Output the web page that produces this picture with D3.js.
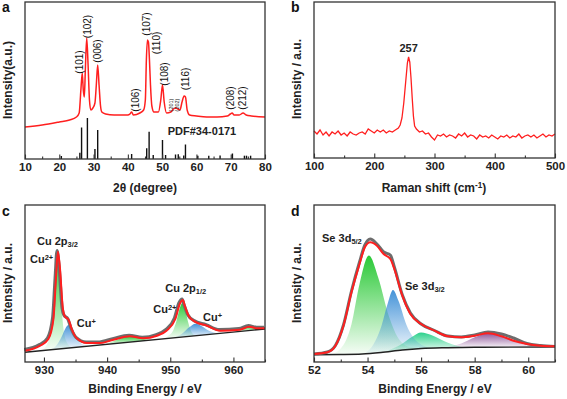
<!DOCTYPE html>
<html>
<head>
<meta charset="utf-8">
<script src="https://cdn.jsdelivr.net/npm/d3@7"></script>
<style>
body{margin:0;background:#fff}
svg{display:block}
.tick text{font-weight:bold}
</style>
</head>
<body>
<script>
// ---------- panel a : XRD ----------
const xrdAngle = [10,15,20,23,25,25.8,26.3,26.7,27.0,27.3,27.6,28.0,28.4,28.8,29.2,29.8,30.4,30.8,31.2,31.6,32.0,32.4,33.5,36,40,40.6,41.1,41.6,43.5,44.6,45.1,45.4,45.7,46.0,46.3,46.6,47.0,47.6,48.9,49.6,50.1,50.6,51.3,52.5,53.3,54.0,54.6,55.2,55.8,56.4,56.8,57.3,58,60,63,66,69,69.9,70.4,71.0,72.5,73.6,74.5,76,80];
const xrdIntensity = [32,34,37,39,42,46,69,86,69,62,89,121,94,59,49,51,56,74,94,74,54,47,45,44,44,45,47,44,46,49,59,99,119,117,99,74,53,47,47,59,74,57,46,47,50,51,50,49,57,63,62,49,44,43,42,42,43,45,46,44,44,46,44,43,42];
const pdfAngle = [20.6,26.0,26.5,28.2,30.4,31.2,41.1,45.5,46.2,47.4,50.1,51.0,53.9,54.7,56.3,56.8,60.4,63.6,66.9,70.5,74.0,74.6,75.8];
const pdfIntensity = [3,6.3,31.5,41,10,29,5,10.7,27.3,4,19,4,4.5,4.7,3.5,14.5,3.3,3.3,3.5,5.5,3.3,3.3,3.3];
const hklLabels = ["(101)","(102)","(006)","(106)","(107)","(110)","(108)","(201)","(202)","(116)","(208)","(212)"];
const hklAngle = [25.75,28.1,31.0,42.1,45.5,48.4,50.6,52.5,54.4,56.8,69.8,73.4];
const hklLevel = [97,132.5,108,59,135,116,85,54,54,80,61,61];
const xrdTicks = [10,20,30,40,50,60,70,80];
const xrdMinor = [15,25,35,45,55,65,75];

// ---------- panel b : Raman ----------
const ramanShift = [100,105,110,115,120,125,130,135,140,145,150,155,160,165,170,175,180,185,190,195,200,205,210,215,220,225,230,235,240,243,246,249,252,255,257,259,261,263,265,267,270,275,280,285,290,295,300,305,310,315,320,325,330,335,340,345,350,355,360,365,370,375,380,385,390,395,400,405,410,415,420,425,430,435,440,445,450,455,460,465,470,475,480,485,490,495,500];
const ramanIntensity = [27,24,28,23,26,22,26,24,27,23,25,22,26,24,23,25,26,24,29,27,25,28,26,28,25,27,26,28,30,33,40,55,75,95,101,96,80,60,42,32,29,26,27,24,25,21,18,23,22,24,21,23,22,20,24,22,25,21,23,22,19,23,21,22,20,23,21,19,22,21,23,20,22,21,24,20,22,23,21,23,20,22,24,21,23,22,24];
const ramanTicks = [100,200,300,400,500];
const ramanMinor = [150,250,350,450];

// ---------- panel c : Cu 2p XPS ----------
const cuBE = [927,929.4,930.7,931.5,931.9,932.2,932.5,933.0,933.3,933.9,934.4,935.2,936.8,938.9,941.0,943.6,945.7,947.9,949.4,950.8,951.5,952.0,952.3,952.9,953.9,955.8,957.9,961.0,962.5,963.8,965];
const cuEnvelope = [11.3,16.3,23,43,83,110.3,96.3,53,45.7,42.3,33,23.7,19,19,22.3,25.7,23.7,26.3,31.3,43,58,62,56.3,46.3,40.3,36.3,31.3,32.3,35.3,33.7,33.7];
const cuBgBE = [927,965];
const cuBg = [9.7,33];
const cu2p32BE = [929.5,930.5,931.0,931.4,931.8,932.1,932.4,932.8,933.2,933.8,934.6];
const cu2p32 = [0,6,15,35,75,95,80,40,15,4,0];
const cuP32BE = [931.0,932.0,932.8,933.4,933.9,934.4,935.0,935.8,937.0];
const cuP32 = [0,4,12,20,23,20,12,4,0];
const cuSatBE = [939.5,941.0,942.5,943.5,944.5,946.0,947.0];
const cuSat = [0,2.5,5,6,5,1.5,0];
const cu2p12BE = [949.0,949.8,950.5,951.0,951.5,951.9,952.3,952.8,953.3,954.0];
const cu2p12 = [0,3,8,17,29,34,29,15,5,0];
const cuP12BE = [950.5,951.8,953.0,954.0,955.0,956.3,957.5];
const cuP12 = [0,3,9,12,9,3,0];
const cuSat2BE = [960.5,961.5,962.5,963.5,964.5];
const cuSat2 = [0,2.5,4.5,2.5,0];
const cuTicks = [930,940,950,960];
const cuMinor = [935,945,955,965];

// ---------- panel d : Se 3d XPS ----------
const seBE = [52.0,52.5,52.8,53.1,53.4,53.7,53.9,54.1,54.35,54.6,54.85,55.0,55.3,55.6,56.0,56.5,57.0,57.5,58.0,58.5,59.0,59.45,59.95,60.45,61];
const seEnvelope = [8,9.7,16.3,36.3,69.7,98,114.7,119.7,116.3,108,103,93,66.3,48,38,31.3,25.7,24.7,26.3,28.7,25.7,21.3,18,16.3,15.7];
const seRaw = [8,10,16.5,37,71,100,117,123,118,110,107,95,67,49,38,31.5,26,25,27,30,28,24,18.5,16.5,15.5];
const seBgBE = [52,53,53.8,54.5,55.3,56,57,58,61];
const seBg = [7.3,7.5,8,9.5,12,13.5,14.3,14.7,15];
const se52BE = [52.6,53.0,53.4,53.7,54.05,54.4,54.8,55.2,55.6,56.0];
const se52 = [0,6,30,70,98,75,35,10,2,0];
const se32BE = [53.8,54.2,54.5,54.75,54.95,55.15,55.45,55.9,56.4];
const se32 = [0,8,25,48,61,50,25,6,0];
const seOxBE = [54.6,55.2,55.7,56.0,56.4,57.0,57.6];
const seOx = [0,5,13,16,13,5,0];
const seSatBE = [56.8,57.5,58.0,58.5,59.0,59.5,60.2];
const seSat = [0,4,10,14,12,6,0];
const seTicks = [52,54,56,58,60];
const seMinor = [53,55,57,59,61];

// ---------- drawing ----------
const FONT = "Arial, 'Liberation Sans', Helvetica, sans-serif";
const RED = "#ff1f1f";
const svg = d3.select("body").append("svg")
    .attr("width",567)
    .attr("height",399)
    .style("font-family",FONT);

const defs = svg.append("defs");
function grad(id, color){
    const g = defs.append("linearGradient").attr("id",id)
        .attr("x1",0).attr("y1",0).attr("x2",0).attr("y2",1);
    g.append("stop").attr("offset","0%").attr("stop-color",color).attr("stop-opacity",0.95);
    g.append("stop").attr("offset","100%").attr("stop-color",color).attr("stop-opacity",0.04);
}
grad("gGreen","#1fc62c");
grad("gBlue","#3b8ed6");
grad("gTeal","#22cf86");
grad("gPurple","#8a4f96");

function panel(box, xDomain, majors, minors){
    const x = d3.scaleLinear().domain(xDomain).range([box.l, box.r]);
    const y = d3.scaleLinear().domain([0, box.b - box.t]).range([box.b, box.t]);
    const g = svg.append("g");
    const axG = svg.append("g");
    axG.append("g").attr("transform",`translate(0,${box.b})`)
        .call(d3.axisBottom(x).tickValues(minors).tickSize(-2.5).tickSizeOuter(0).tickFormat(""))
        .call(a => a.select(".domain").remove());
    axG.append("g").attr("transform",`translate(0,${box.b})`)
        .call(d3.axisBottom(x).tickValues(majors).tickSize(-4.5).tickSizeOuter(0).tickPadding(3.5).tickFormat(d3.format("d")))
        .call(a => a.select(".domain").remove())
        .attr("font-size",11.5).attr("font-weight","bold").attr("font-family",FONT);
    axG.selectAll(".tick text")
        .style("font-size","11.5px").style("font-weight","700")
        .style("font-family",FONT).attr("fill","#222");
    axG.selectAll(".tick line").attr("stroke","#333").attr("stroke-width",1.1);
    axG.append("rect")
        .attr("x",box.l).attr("y",box.t)
        .attr("width",box.r-box.l).attr("height",box.b-box.t)
        .attr("fill","none").attr("stroke","#333").attr("stroke-width",1.3);
    return {x, y, g, axG};
}

function richText(g, x, y, parts, size, anchor){
    const t = g.append("text").attr("x",x).attr("y",y)
        .attr("font-size",size).attr("font-weight","bold").attr("fill","#222")
        .attr("text-anchor",anchor || "start");
    parts.forEach(p => {
        const s = t.append("tspan").text(p.t);
        if(p.sub) s.attr("font-size",size*0.68).attr("baseline-shift","-25%");
        if(p.sup) s.attr("font-size",size*0.68).attr("baseline-shift","45%");
    });
    return t;
}

function ytitle(x, y, txt){
    svg.append("text")
        .attr("transform",`translate(${x},${y}) rotate(-90)`)
        .attr("text-anchor","middle").attr("dominant-baseline","central")
        .attr("font-size",12).attr("font-weight","bold").attr("fill","#222")
        .text(txt);
}
function letter(x, y, txt){
    svg.append("text").attr("x",x).attr("y",y)
        .attr("font-size",14).attr("font-weight","bold").attr("fill","#111").text(txt);
}

// ---- a ----
const pa = panel({l:25,r:265,t:2,b:159},[10,80],xrdTicks,xrdMinor);
pa.g.selectAll("line.stick")
    .data(pdfAngle)
    .enter().append("line")
    .attr("x1",d => pa.x(d)).attr("x2",d => pa.x(d))
    .attr("y1",pa.y(0))
    .attr("y2",(d,i) => pa.y(pdfIntensity[i]))
    .attr("stroke","#111").attr("stroke-width",1.4);
pa.g.append("path")
    .datum(xrdAngle.map((d,i) => [d, xrdIntensity[i]]))
    .attr("fill","none").attr("stroke",RED).attr("stroke-width",1.5)
    .attr("d", d3.line().x(d => pa.x(d[0])).y(d => pa.y(d[1])).curve(d3.curveMonotoneX));
hklLabels.forEach((lab,i) => {
    const small = lab === "(201)" || lab === "(202)";
    pa.g.append("text")
        .attr("transform",`translate(${pa.x(hklAngle[i])},${pa.y(hklLevel[i])}) rotate(-90)`)
        .attr("text-anchor","middle").attr("dominant-baseline","central")
        .attr("font-size",small ? 5.5 : 10).attr("fill","#111")
        .text(lab);
});
pa.g.append("text").attr("x",202).attr("y",135).attr("text-anchor","middle")
    .attr("font-size",11).attr("font-weight","bold").attr("fill","#222").text("PDF#34-0171");
ytitle(8,80,"Intensity(a.u.)");
svg.append("text").attr("x",145).attr("y",192).attr("text-anchor","middle")
    .attr("font-size",12).attr("font-weight","bold").attr("fill","#222").text("2θ (degree)");
letter(2,12,"a");

// ---- b ----
const pb = panel({l:314,r:555,t:2,b:158},[100,500],ramanTicks,ramanMinor);
pb.g.append("path")
    .datum(ramanShift.map((d,i) => [d, ramanIntensity[i]]))
    .attr("fill","none").attr("stroke",RED).attr("stroke-width",1.3)
    .attr("d", d3.line().x(d => pb.x(d[0])).y(d => pb.y(d[1])));
pb.g.append("text").attr("x",pb.x(257)).attr("y",pb.y(106)).attr("text-anchor","middle")
    .attr("font-size",11).attr("font-weight","bold").attr("fill","#222").text("257");
ytitle(297,79,"Intensity / a.u.");
richText(svg,434,192,[{t:"Raman shift (cm"},{t:"-1",sup:true},{t:")"}],12,"middle");
letter(291,12,"b");

// ---- c ----
const pc = panel({l:25,r:265,t:205,b:362},[927,965],cuTicks,cuMinor);
const cuBgScale = d3.scaleLinear().domain(cuBgBE).range(cuBg);
function comp(p, bgScale, xs, hs, fill){
    p.g.append("path")
        .datum(xs.map((d,i) => [d, hs[i]]))
        .attr("fill",fill).attr("stroke","none")
        .attr("d", d3.area()
            .x(d => p.x(d[0]))
            .y0(d => p.y(bgScale(d[0])))
            .y1(d => p.y(bgScale(d[0]) + d[1]))
            .curve(d3.curveMonotoneX));
}
comp(pc, cuBgScale, cuSatBE, cuSat, "url(#gGreen)");
comp(pc, cuBgScale, cuSat2BE, cuSat2, "url(#gGreen)");
comp(pc, cuBgScale, cu2p32BE, cu2p32, "url(#gGreen)");
comp(pc, cuBgScale, cu2p12BE, cu2p12, "url(#gGreen)");
comp(pc, cuBgScale, cuP32BE, cuP32, "url(#gBlue)");
comp(pc, cuBgScale, cuP12BE, cuP12, "url(#gBlue)");
pc.g.append("path")
    .datum(cuBgBE.map((d,i) => [d, cuBg[i]]))
    .attr("fill","none").attr("stroke","#222").attr("stroke-width",1.4)
    .attr("d", d3.line().x(d => pc.x(d[0])).y(d => pc.y(d[1])));
const cuLine = d3.line().x(d => pc.x(d[0])).y(d => pc.y(d[1])).curve(d3.curveMonotoneX);
const cuData = cuBE.map((d,i) => [d, cuEnvelope[i]]);
pc.g.append("path").datum(cuData)
    .attr("fill","none").attr("stroke","#6d6d6d").attr("stroke-width",3.2)
    .attr("transform","translate(-0.8,-1)")
    .attr("d", cuLine);
pc.g.append("path").datum(cuData)
    .attr("fill","none").attr("stroke",RED).attr("stroke-width",2)
    .attr("d", cuLine);
richText(pc.g,pc.x(928.9),pc.y(117),[{t:"Cu 2p"},{t:"3/2",sub:true}],11);
richText(pc.g,pc.x(927.8),pc.y(99),[{t:"Cu"},{t:"2+",sup:true}],11);
richText(pc.g,pc.x(935.2),pc.y(35),[{t:"Cu"},{t:"+",sup:true}],11);
richText(pc.g,pc.x(949.2),pc.y(70),[{t:"Cu 2p"},{t:"1/2",sub:true}],11);
richText(pc.g,pc.x(947.3),pc.y(49),[{t:"Cu"},{t:"2+",sup:true}],11);
richText(pc.g,pc.x(955.2),pc.y(41),[{t:"Cu"},{t:"+",sup:true}],11);
ytitle(8,283,"Intensity / a.u.");
svg.append("text").attr("x",145).attr("y",393).attr("text-anchor","middle")
    .attr("font-size",12).attr("font-weight","bold").attr("fill","#222").text("Binding Energy / eV");
letter(2,216,"c");

// ---- d ----
const pd = panel({l:314,r:555,t:205,b:362},[52,61],seTicks,seMinor);
const seBgScale = d3.scaleLinear().domain(seBgBE).range(seBg);
comp(pd, seBgScale, seSatBE, seSat, "url(#gPurple)");
comp(pd, seBgScale, seOxBE, seOx, "url(#gTeal)");
comp(pd, seBgScale, se52BE, se52, "url(#gGreen)");
comp(pd, seBgScale, se32BE, se32, "url(#gBlue)");
pd.g.append("path")
    .datum(seBgBE.map((d,i) => [d, seBg[i]]))
    .attr("fill","none").attr("stroke","#222").attr("stroke-width",1.4)
    .attr("d", d3.line().x(d => pd.x(d[0])).y(d => pd.y(d[1])).curve(d3.curveMonotoneX));
const seLine = d3.line().x(d => pd.x(d[0])).y(d => pd.y(d[1])).curve(d3.curveMonotoneX);
pd.g.append("path").datum(seBE.map((d,i) => [d, seRaw[i]]))
    .attr("fill","none").attr("stroke","#6d6d6d").attr("stroke-width",3)
    .attr("d", seLine);
pd.g.append("path").datum(seBE.map((d,i) => [d, seEnvelope[i]]))
    .attr("fill","none").attr("stroke",RED).attr("stroke-width",2)
    .attr("d", seLine);
richText(pd.g,pd.x(52.3),pd.y(120),[{t:"Se 3d"},{t:"5/2",sub:true}],11);
richText(pd.g,pd.x(55.4),pd.y(72),[{t:"Se 3d"},{t:"3/2",sub:true}],11);
ytitle(297,283,"Intensity / a.u.");
svg.append("text").attr("x",435).attr("y",393).attr("text-anchor","middle")
    .attr("font-size",12).attr("font-weight","bold").attr("fill","#222").text("Binding Energy / eV");
letter(291,216,"d");
</script>
</body>
</html>
